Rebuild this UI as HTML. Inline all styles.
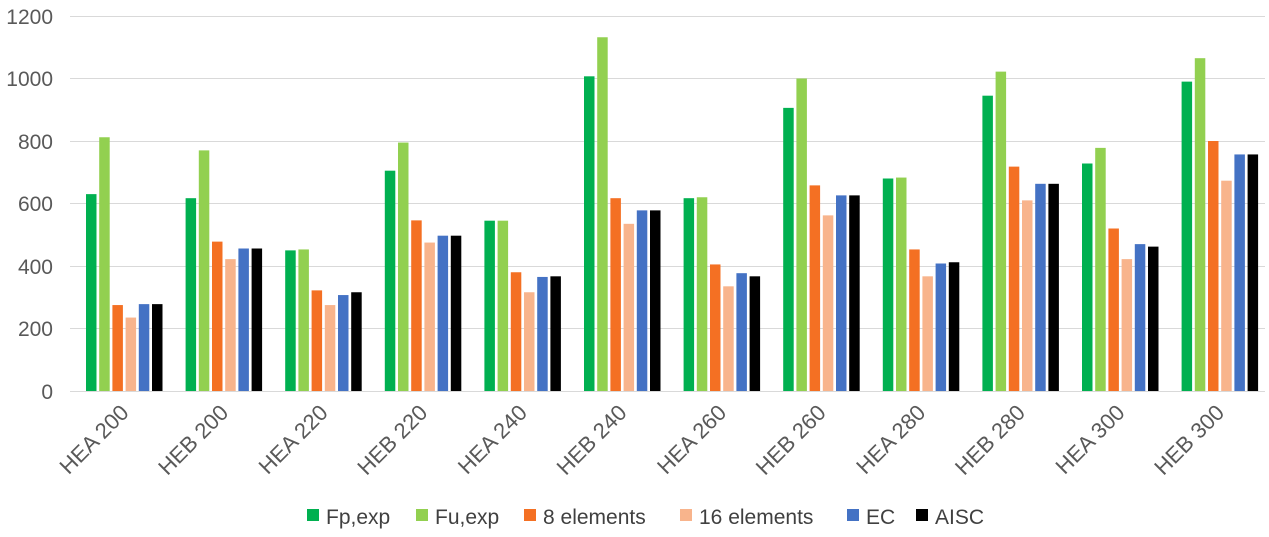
<!DOCTYPE html>
<html><head><meta charset="utf-8"><style>body{margin:0;background:#fff}svg{display:block}</style></head><body>
<svg width="1269" height="537" xmlns="http://www.w3.org/2000/svg" font-family="Liberation Sans, sans-serif">
<g stroke="#d9d9d9" stroke-width="1">
<line x1="70" x2="1265" y1="16.5" y2="16.5"/><line x1="70" x2="1265" y1="78.5" y2="78.5"/><line x1="70" x2="1265" y1="141.5" y2="141.5"/><line x1="70" x2="1265" y1="203.5" y2="203.5"/><line x1="70" x2="1265" y1="266.5" y2="266.5"/><line x1="70" x2="1265" y1="328.5" y2="328.5"/><line x1="70" x2="1265" y1="391.5" y2="391.5"/>
</g>
<g fill="#595959" font-size="21" text-anchor="end">
<text x="53" y="24">1200</text><text x="53" y="86">1000</text><text x="53" y="149">800</text><text x="53" y="211">600</text><text x="53" y="274">400</text><text x="53" y="336">200</text><text x="53" y="399">0</text>
</g>
<g id="bars"></g>
<g id="labels" fill="#595959" font-size="22" text-anchor="end"></g>
<g font-size="21" fill="#404040">
<rect x="307" y="509" width="12" height="12" fill="#00b050"/><text x="326" y="524">Fp,exp</text>
<rect x="416" y="509" width="12" height="12" fill="#92d050"/><text x="435" y="524">Fu,exp</text>
<rect x="524" y="509" width="12" height="12" fill="#f47023"/><text x="543" y="524">8 elements</text>
<rect x="680" y="509" width="12" height="12" fill="#f8b48c"/><text x="699" y="524">16 elements</text>
<rect x="847" y="509" width="12" height="12" fill="#4472c4"/><text x="866" y="524">EC</text>
<rect x="916" y="509" width="12" height="12" fill="#000"/><text x="935" y="524">AISC</text>
</g>
<script>
var d=[["HEA 200",[630,812,275,235,278,278]],["HEB 200",[617,770,478,422,456,456]],["HEA 220",[450,453,322,275,307,316]],["HEB 220",[705,795,546,475,497,497]],["HEA 240",[545,545,380,316,365,367]],["HEB 240",[1007,1132,617,535,578,578]],["HEA 260",[617,620,405,335,377,367]],["HEB 260",[906,1000,658,562,626,626]],["HEA 280",[680,683,453,367,408,412]],["HEB 280",[945,1022,718,610,663,663]],["HEA 300",[728,778,520,422,470,462]],["HEB 300",[990,1065,800,673,757,757]]];
var c=["#00b050","#92d050","#f47023","#f8b48c","#4472c4","#000"];
var ns="http://www.w3.org/2000/svg",b=document.getElementById("bars"),l=document.getElementById("labels");
d.forEach(function(g,i){var x0=86+i*99.6;g[1].forEach(function(v,j){var r=document.createElementNS(ns,"rect");var h=v*62.5/200;r.setAttribute("x",x0+j*13.2);r.setAttribute("width",10.5);r.setAttribute("y",391-h);r.setAttribute("height",h);r.setAttribute("fill",c[j]);b.appendChild(r);});
var t=document.createElementNS(ns,"text");var cx=x0+44,cy=414;t.setAttribute("x",cx);t.setAttribute("y",cy);t.setAttribute("transform","rotate(-45 "+cx+" "+cy+")");t.textContent=g[0];l.appendChild(t);});
</script>
</svg>
</body></html>
